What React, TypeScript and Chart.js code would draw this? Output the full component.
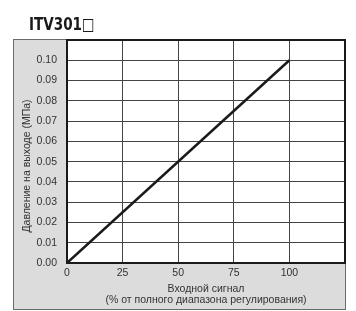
import React, { useEffect, useRef } from "react";
import { Chart, registerables } from "chart.js";

Chart.register(...registerables);

const chartTitle = "ITV301□";
const xAxisTitle = ["Входной сигнал", "(% от полного диапазона регулирования)"];
const yAxisTitle = "Давление на выходе (МПа)";
const inputSignal = [0, 100];
const outputPressure = [0, 0.1];
const xTickValues = [0, 25, 50, 75, 100];
const yTickValues = [0, 0.01, 0.02, 0.03, 0.04, 0.05, 0.06, 0.07, 0.08, 0.09, 0.1];
const xMax = 125;
const yMax = 0.11;

const FONT = "'Liberation Sans', Arial, sans-serif";

const framePlugin = {
  id: "frame",
  beforeDraw(chart: any) {
    const { ctx, chartArea } = chart;
    ctx.save();
    ctx.fillStyle = "#dcdcdc";
    ctx.fillRect(13, 39, 333, 271);
    ctx.strokeStyle = "#6a6a6a";
    ctx.lineWidth = 1;
    ctx.strokeRect(13.5, 39.5, 332, 270);
    ctx.fillStyle = "#ffffff";
    ctx.fillRect(chartArea.left, chartArea.top, chartArea.right - chartArea.left, chartArea.bottom - chartArea.top);
    ctx.restore();
  },
  afterDraw(chart: any) {
    const { ctx, chartArea } = chart;
    ctx.save();
    ctx.strokeStyle = "#1a1a1a";
    ctx.lineWidth = 2;
    ctx.strokeRect(chartArea.left, chartArea.top, chartArea.right - chartArea.left, chartArea.bottom - chartArea.top);
    ctx.restore();
    // title
    ctx.save();
    ctx.fillStyle = "#1a1a1a";
    ctx.font = "bold 17.5px 'Liberation Sans Narrow', 'DejaVu Sans Condensed', sans-serif";
    ctx.textBaseline = "alphabetic";
    ctx.textAlign = "left";
    ctx.translate(29, 30);
    ctx.scale(0.86, 1);
    ctx.fillText(chartTitle, 0, 0);
    ctx.restore();
    // y axis title
    ctx.save();
    ctx.translate(27, 166);
    ctx.rotate(-Math.PI / 2);
    ctx.font = "10.5px " + FONT;
    ctx.fillStyle = "#333";
    ctx.textAlign = "center";
    ctx.textBaseline = "middle";
    ctx.fillText(yAxisTitle, 0, 0);
    ctx.restore();
  },
};

export default function App() {
  const ref = useRef<HTMLCanvasElement>(null);
  useEffect(() => {
    if (!ref.current) return;
    const chart = new Chart(ref.current, {
      type: "line",
      data: {
        datasets: [
          {
            data: inputSignal.map((x, i) => ({ x, y: outputPressure[i] })),
            borderColor: "#1a1a1a",
            borderWidth: 2.5,
            pointRadius: 0,
            fill: false,
            tension: 0,
          },
        ],
      },
      options: {
        animation: false,
        responsive: false,
        layout: { padding: { top: 40, left: 13, right: 11, bottom: 2 } },
        plugins: { legend: { display: false }, title: { display: false }, tooltip: { enabled: false } },
        scales: {
          x: {
            type: "linear",
            min: 0,
            max: xMax,
            afterFit: (s: any) => { s.height = 46; },
            afterBuildTicks: (s: any) => { s.ticks = [...xTickValues, xMax].map((v) => ({ value: v })); },
            ticks: {
              padding: 4,
              color: "#333",
              font: { family: FONT, size: 10.5 },
              maxRotation: 0,
              callback: (v: any) => (xTickValues.includes(Number(v)) ? String(v) : ""),
            },
            grid: { color: "#444", lineWidth: 1, drawTicks: false },
            border: { display: false },
            title: {
              display: true,
              text: xAxisTitle,
              color: "#333",
              font: { family: FONT, size: 10.5, lineHeight: 1.05 },
              padding: { top: 0, bottom: 3.5 },
            },
          },
          y: {
            type: "linear",
            min: 0,
            max: yMax,
            afterFit: (s: any) => { s.width = 54; },
            afterBuildTicks: (s: any) => { s.ticks = [...yTickValues, yMax].map((v) => ({ value: v })); },
            ticks: {
              padding: 10,
              color: "#333",
              font: { family: FONT, size: 10.5 },
              callback: (v: any) => {
                const n = Number(v);
                return yTickValues.some((t) => Math.abs(t - n) < 1e-9) ? n.toFixed(2) : "";
              },
            },
            grid: { color: "#444", lineWidth: 1, drawTicks: false },
            border: { display: false },
          },
        },
      },
      plugins: [framePlugin],
    });
    return () => chart.destroy();
  }, []);
  return (
    <div style={{ position: "fixed", left: 0, top: 0, width: 356, height: 311, background: "#fff" }}>
      <canvas ref={ref} width={356} height={311} />
    </div>
  );
}
